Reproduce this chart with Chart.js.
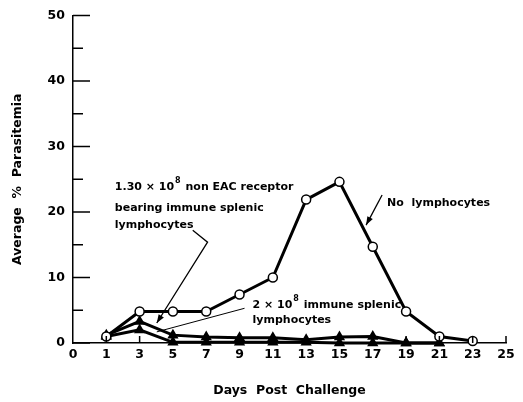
<!DOCTYPE html>
<html>
<head>
<meta charset="utf-8">
<script src="https://cdn.jsdelivr.net/npm/chart.js@4/dist/chart.umd.min.js"></script>
<style>
  html, body { margin: 0; padding: 0; background: #fff; }
  #wrap { width: 523px; height: 402px; }
</style>
</head>
<body>
<div id="wrap"><canvas id="chart"></canvas></div>
<script>
// days post challenge (x) and average % parasitemia per group
const days = [1, 3, 5, 7, 9, 11, 13, 15, 17, 19, 21, 23];
const noLymphocytes = [1.0, 4.8, 4.8, 4.8, 7.4, 10.0, 21.9, 24.6, 14.7, 4.8, 1.0, 0.3];
const nonEacCells = [1.2, 3.3, 1.2, 0.9, 0.8, 0.8, 0.5, 0.9, 1.0, 0, 0];
const immuneCells = [1.0, 2.0, 0.1, 0.1, 0.1, 0.1, 0.1, 0, 0, 0, 0];

const xTicks = [-1, 1, 3, 5, 7, 9, 11, 13, 15, 17, 19, 21, 23, 25];
const yTicks = [0, 10, 20, 30, 40, 50];

const FONT = "'DejaVu Sans', sans-serif";

const toPoints = (vals) => vals.map((v, i) => ({ x: days[i], y: v }));

// inward ticks + labels with leader lines, drawn over the chart
const decorations = {
    id: "decorations",
    afterDraw(chart) {
        const ctx = chart.ctx;
        const xs = chart.scales.x, ys = chart.scales.y;
        const px = (v) => xs.getPixelForValue(v);
        const py = (v) => ys.getPixelForValue(v);
        const y0 = py(0), x0 = px(-1);
        ctx.save();
        ctx.strokeStyle = "#000";
        ctx.lineWidth = 1.5;
        // y ticks (major and minor), pointing into the plot
        for (let v = 0; v <= 50; v += 5) {
            const len = v % 10 === 0 ? 17 : 10;
            ctx.beginPath();
            ctx.moveTo(x0, py(v));
            ctx.lineTo(x0 + len, py(v));
            ctx.stroke();
        }
        // x ticks upward
        xTicks.forEach(v => {
            if (v < 0) return;
            ctx.beginPath();
            ctx.moveTo(px(v), y0);
            ctx.lineTo(px(v), y0 - 7);
            ctx.stroke();
        });

        ctx.fillStyle = "#000";
        ctx.textBaseline = "middle";
        ctx.textAlign = "left";
        const f = "bold 11px " + FONT;
        ctx.font = f;

        const supText = (parts, x, y) => {
            // parts: [text, superscript, text]
            ctx.font = f;
            ctx.fillText(parts[0], x, y);
            let w = ctx.measureText(parts[0]).width;
            ctx.font = "bold 8px " + FONT;
            ctx.fillText(parts[1], x + w + 1, y - 6);
            w += ctx.measureText(parts[1]).width + 2;
            ctx.font = f;
            ctx.fillText(parts[2], x + w, y);
        };

        const arrow = (pts, head) => {
            ctx.beginPath();
            ctx.moveTo(px(pts[0][0]), py(pts[0][1]));
            for (let i = 1; i < pts.length; i++) ctx.lineTo(px(pts[i][0]), py(pts[i][1]));
            ctx.stroke();
            if (!head) return;
            const a = pts[pts.length - 2], b = pts[pts.length - 1];
            const bx = px(b[0]), by = py(b[1]);
            const ang = Math.atan2(by - py(a[1]), bx - px(a[0]));
            ctx.beginPath();
            ctx.moveTo(bx, by);
            ctx.lineTo(bx - 9 * Math.cos(ang - 0.35), by - 9 * Math.sin(ang - 0.35));
            ctx.lineTo(bx - 9 * Math.cos(ang + 0.35), by - 9 * Math.sin(ang + 0.35));
            ctx.closePath();
            ctx.fill();
        };

        // 1.30 x 10^8 non EAC receptor bearing immune splenic lymphocytes
        supText(["1.30 × 10", "8", " non EAC receptor"], px(1.51), py(23.8));
        ctx.fillText("bearing immune splenic", px(1.51), py(20.6));
        ctx.fillText("lymphocytes", px(1.51), py(18.0));
        ctx.lineWidth = 1.3;
        arrow([[6.19, 17.2], [7.08, 15.4], [4.03, 3.05]], true);

        // No lymphocytes
        ctx.fillText("No  lymphocytes", px(17.86), py(21.3));
        arrow([[17.56, 22.6], [16.6, 18.0]], true);

        // 2 x 10^8 immune splenic lymphocytes
        supText(["2 × 10", "8", " immune splenic"], px(9.78), py(5.8));
        ctx.fillText("lymphocytes", px(9.78), py(3.5));
        ctx.lineWidth = 1;
        arrow([[9.3, 5.3], [4.03, 1.7]], false);
        ctx.restore();
    }
};

const lineStyle = {
    borderColor: "#000",
    borderWidth: 3,
    pointBorderColor: "#000",
    clip: false
};

new Chart(document.getElementById("chart"), {
    type: "line",
    data: {
        datasets: [{
            ...lineStyle,
            label: "No lymphocytes",
            data: toPoints(noLymphocytes),
            pointStyle: "circle",
            pointRadius: 4.5,
            pointBorderWidth: 1.5,
            pointBackgroundColor: "#fff"
        }, {
            ...lineStyle,
            label: "1.30 x 10^8 non EAC receptor bearing immune splenic lymphocytes",
            data: toPoints(nonEacCells),
            pointStyle: "triangle",
            pointRadius: 3.5,
            pointBackgroundColor: "#000"
        }, {
            ...lineStyle,
            label: "2 x 10^8 immune splenic lymphocytes",
            data: toPoints(immuneCells),
            pointStyle: "triangle",
            pointRadius: 3.5,
            pointBackgroundColor: "#000"
        }]
    },
    options: {
        responsive: true,
        maintainAspectRatio: false,
        animation: false,
        layout: { padding: { top: 15, right: 17, left: 0, bottom: 0 } },
        plugins: {
            legend: { display: false },
            tooltip: { enabled: false }
        },
        scales: {
            x: {
                type: "linear",
                min: -1,
                max: 25,
                afterBuildTicks: (scale) => { scale.ticks = xTicks.map(v => ({ value: v })); },
                afterFit: (scale) => { scale.height = 59; },
                grid: { display: false, drawTicks: false },
                border: { display: true, color: "#000", width: 1.5 },
                ticks: {
                    color: "#000",
                    padding: 4,
                    maxRotation: 0,
                    autoSkip: false,
                    font: { family: FONT, size: 12.5, weight: "bold" },
                    callback: (v) => v === -1 ? "0" : String(v)
                },
                title: {
                    display: true,
                    text: "Days  Post  Challenge",
                    color: "#000",
                    font: { family: FONT, size: 12.5, weight: "bold" },
                    padding: { top: 4, bottom: 4 }
                }
            },
            y: {
                type: "linear",
                min: 0,
                max: 50,
                afterBuildTicks: (scale) => { scale.ticks = yTicks.map(v => ({ value: v })); },
                afterFit: (scale) => { scale.width = 73; },
                grid: { display: false, drawTicks: false },
                border: { display: true, color: "#000", width: 1.5 },
                ticks: {
                    color: "#000",
                    padding: 8,
                    font: { family: FONT, size: 12.5, weight: "bold" }
                },
                title: {
                    display: true,
                    text: "Average  %  Parasitemia",
                    color: "#000",
                    font: { family: FONT, size: 12.5, weight: "bold" },
                    padding: { top: 10, bottom: 4 }
                }
            }
        }
    },
    plugins: [decorations]
});
</script>
</body>
</html>
